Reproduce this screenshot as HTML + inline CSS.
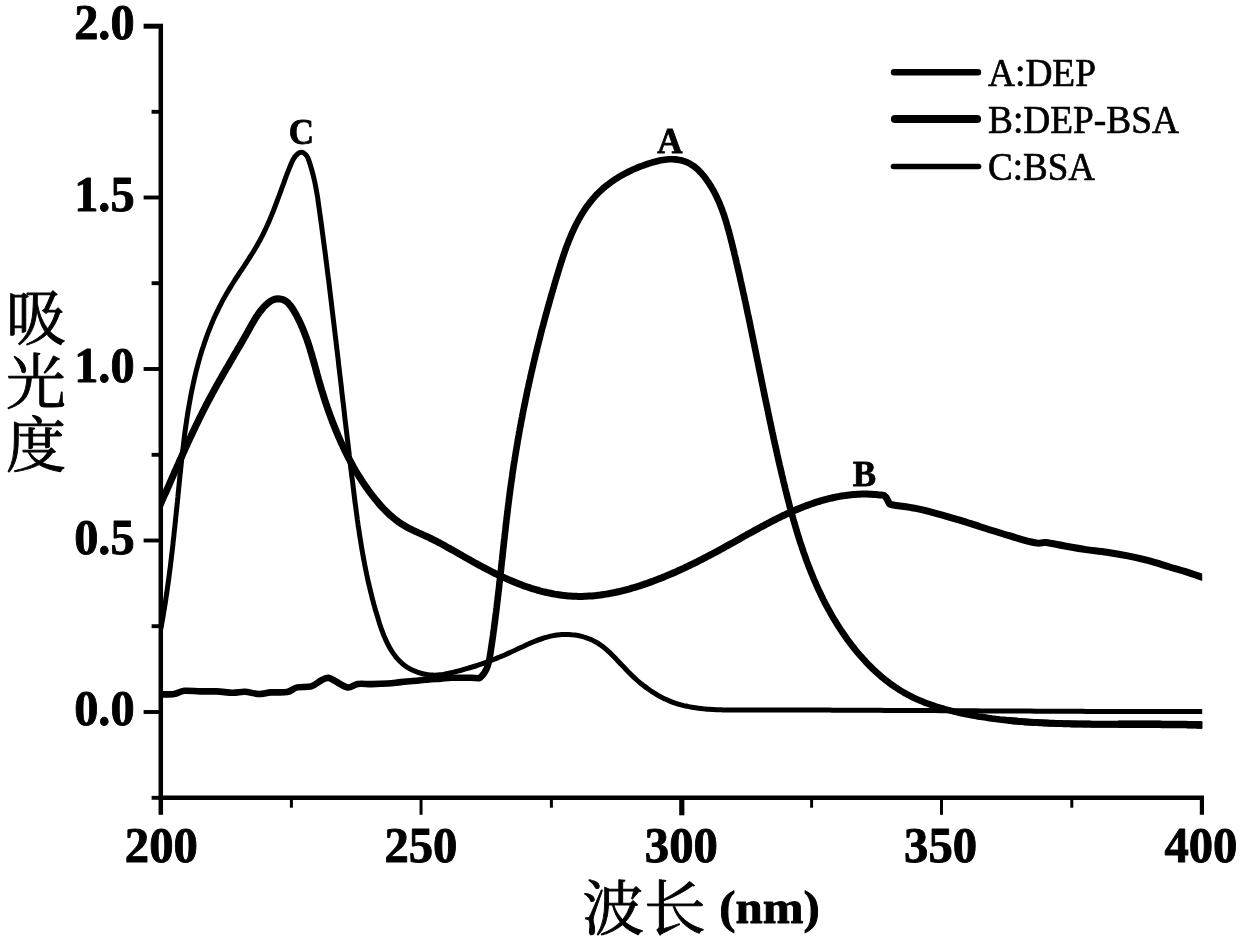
<!DOCTYPE html>
<html lang="zh">
<head>
<meta charset="utf-8">
<title>UV absorption spectra</title>
<style>
html,body{margin:0;padding:0;background:#fff;}
body{width:1240px;height:941px;overflow:hidden;}
svg{display:block;}
.num{font-family:"Liberation Serif",serif;font-weight:bold;font-size:50px;fill:#000;stroke:#000;stroke-width:0.9px;stroke-linejoin:round;}
.leg{font-family:"Liberation Serif",serif;font-size:39px;fill:#000;stroke:#000;stroke-width:0.7px;stroke-linejoin:round;}
.pk{font-family:"Liberation Serif",serif;font-weight:bold;font-size:35px;fill:#000;stroke:#000;stroke-width:0.8px;stroke-linejoin:round;}
.cjk{font-family:"Liberation Serif","Noto Serif CJK SC",serif;font-size:60px;fill:#000;stroke:#000;stroke-width:0.9px;stroke-linejoin:round;}
</style>
</head>
<body>
<svg width="1240" height="941" viewBox="0 0 1240 941">
<rect width="1240" height="941" fill="#fff"/>
<g stroke="#000" fill="none" stroke-linecap="butt">
<line x1="160.8" y1="24" x2="160.8" y2="800" stroke-width="4.5"/>
<line x1="158.6" y1="797.7" x2="1204" y2="797.7" stroke-width="4.6"/>
</g>
<g stroke="#000" stroke-width="3.9" fill="none"><line x1="143.6" y1="26.2" x2="163" y2="26.2" stroke-width="5"/><line x1="151.6" y1="111.8" x2="161" y2="111.8"/><line x1="143.6" y1="197.5" x2="161" y2="197.5"/><line x1="151.6" y1="283.2" x2="161" y2="283.2"/><line x1="143.6" y1="369.0" x2="161" y2="369.0"/><line x1="151.6" y1="454.8" x2="161" y2="454.8"/><line x1="143.6" y1="540.5" x2="161" y2="540.5"/><line x1="151.6" y1="626.2" x2="161" y2="626.2"/><line x1="143.6" y1="712.0" x2="161" y2="712.0"/><line x1="151.6" y1="797.8" x2="161" y2="797.8"/></g>
<g stroke="#000" stroke-width="3" fill="none"><line x1="160.8" y1="797.5" x2="160.8" y2="814.8" stroke-width="4.5"/><line x1="1201.9" y1="797.5" x2="1201.9" y2="814.8" stroke-width="4.2"/><line x1="421.05" y1="797.5" x2="421.05" y2="814.8" stroke-width="3"/><line x1="681.8" y1="797.5" x2="681.8" y2="815.3" stroke-width="5.2"/><line x1="941.5" y1="797.5" x2="941.5" y2="814.8" stroke-width="3"/><line x1="291.4" y1="797.5" x2="291.4" y2="807.7" stroke-width="3"/><line x1="551.4" y1="797.5" x2="551.4" y2="807.7" stroke-width="3"/><line x1="811.6" y1="797.5" x2="811.6" y2="807.7" stroke-width="3"/><line x1="1071.8" y1="797.5" x2="1071.8" y2="807.7" stroke-width="3"/></g>
<clipPath id="plotclip"><rect x="160.8" y="0" width="1041.4" height="800"/></clipPath>
<g fill="none" stroke="#000" stroke-linejoin="round" stroke-linecap="square" clip-path="url(#plotclip)">
<path stroke-width="5" d="M161.0 628.0C161.2 627.2 161.6 624.6 161.9 623.0C162.2 621.3 162.5 619.6 162.8 617.9C163.1 616.2 163.4 614.6 163.6 612.9C163.9 611.2 164.2 609.5 164.5 607.8C164.7 606.2 165.0 604.5 165.3 602.8C165.5 601.1 165.8 599.4 166.0 597.8C166.3 596.1 166.5 594.4 166.8 592.7C167.0 591.0 167.3 589.4 167.5 587.7C167.7 586.0 168.0 584.3 168.2 582.6C168.4 581.0 168.7 579.3 168.9 577.6C169.1 575.9 169.3 574.2 169.5 572.5C169.8 570.9 170.0 569.2 170.2 567.5C170.4 565.8 170.6 564.1 170.8 562.5C171.0 560.8 171.2 559.1 171.4 557.4C171.6 555.7 171.8 554.0 172.0 552.4C172.2 550.7 172.4 549.0 172.6 547.3C172.8 545.6 173.0 543.9 173.1 542.3C173.3 540.6 173.5 538.9 173.7 537.2C173.9 535.5 174.1 533.8 174.2 532.1C174.4 530.5 174.6 528.8 174.8 527.1C174.9 525.4 175.1 523.7 175.3 522.0C175.5 520.3 175.6 518.6 175.8 517.0C176.0 515.3 176.2 513.6 176.3 511.9C176.5 510.2 176.7 508.5 176.9 506.8C177.0 505.1 177.2 503.4 177.4 501.7C177.5 500.0 177.7 498.4 177.9 496.7C178.0 495.0 178.2 493.3 178.4 491.6C178.6 489.9 178.7 488.2 178.9 486.5C179.1 484.8 179.2 483.1 179.4 481.4C179.6 479.7 179.8 478.0 179.9 476.3C180.1 474.6 180.3 472.9 180.5 471.2C180.6 469.5 180.8 467.8 181.0 466.1C181.2 464.4 181.4 462.7 181.5 461.0C181.7 459.3 181.9 457.6 182.1 455.9C182.3 454.2 182.5 452.5 182.7 450.8C182.9 449.1 183.1 447.4 183.3 445.7C183.5 444.0 183.7 442.3 183.9 440.6C184.1 438.9 184.3 437.2 184.5 435.5C184.8 433.8 185.0 432.1 185.2 430.4C185.4 428.8 185.7 427.1 185.9 425.4C186.2 423.7 186.4 422.0 186.7 420.3C186.9 418.6 187.2 416.9 187.4 415.2C187.7 413.5 188.0 411.9 188.2 410.2C188.5 408.5 188.8 406.8 189.1 405.1C189.4 403.5 189.7 401.8 190.0 400.1C190.3 398.4 190.6 396.8 190.9 395.1C191.2 393.4 191.6 391.7 191.9 390.1C192.3 388.4 192.6 386.7 193.0 385.1C193.3 383.4 193.7 381.8 194.1 380.1C194.4 378.4 194.8 376.8 195.2 375.1C195.6 373.5 196.0 371.8 196.4 370.2C196.8 368.6 197.3 366.9 197.7 365.3C198.1 363.6 198.6 362.0 199.0 360.4C199.5 358.7 200.0 357.1 200.4 355.5C200.9 353.9 201.4 352.2 201.9 350.6C202.4 349.0 202.9 347.4 203.5 345.8C204.0 344.2 204.6 342.6 205.1 341.0C205.7 339.4 206.2 337.8 206.8 336.2C207.4 334.6 208.0 333.0 208.6 331.4C209.2 329.8 209.8 328.3 210.5 326.7C211.1 325.1 211.7 323.6 212.4 322.0C213.1 320.4 213.7 318.9 214.4 317.3C215.1 315.8 215.8 314.3 216.6 312.7C217.3 311.2 218.0 309.7 218.8 308.1C219.5 306.6 220.3 305.1 221.1 303.6C221.8 302.1 222.6 300.6 223.4 299.1C224.3 297.6 225.1 296.1 225.9 294.7C226.8 293.2 227.6 291.7 228.5 290.3C229.4 288.8 230.3 287.4 231.2 285.9C232.1 284.5 233.0 283.0 233.9 281.6C234.8 280.2 235.7 278.7 236.7 277.3C237.6 275.9 238.5 274.5 239.5 273.0C240.4 271.6 241.4 270.2 242.3 268.8C243.2 267.3 244.2 265.9 245.1 264.5C246.1 263.1 247.0 261.7 247.9 260.2C248.8 258.8 249.8 257.4 250.7 255.9C251.6 254.5 252.5 253.0 253.4 251.6C254.3 250.2 255.1 248.7 256.0 247.2C256.9 245.8 257.7 244.3 258.5 242.8C259.4 241.3 260.2 239.9 260.9 238.4C261.7 236.9 262.5 235.3 263.3 233.8C264.0 232.3 264.7 230.8 265.5 229.2C266.2 227.7 266.9 226.2 267.6 224.6C268.3 223.1 268.9 221.5 269.6 220.0C270.3 218.4 270.9 216.8 271.6 215.2C272.2 213.7 272.8 212.1 273.5 210.5C274.1 208.9 274.7 207.3 275.3 205.8C275.9 204.2 276.5 202.6 277.1 201.0C277.7 199.4 278.3 197.8 278.9 196.2C279.5 194.6 280.1 193.0 280.7 191.4C281.2 189.8 281.8 188.2 282.4 186.6C283.0 185.0 283.6 183.4 284.2 181.8C284.7 180.2 285.3 178.6 285.9 177.0C286.5 175.4 286.5 175.1 287.7 172.2C288.9 169.3 291.4 162.7 293.0 159.7C294.6 156.7 296.1 155.2 297.5 154.0C298.9 152.8 300.4 152.3 301.6 152.3C302.9 152.3 304.0 153.1 305.0 154.0C306.0 154.9 306.7 155.2 307.8 157.8C308.9 160.4 310.5 165.5 311.6 169.3C312.7 173.1 313.5 176.3 314.5 180.8C315.5 185.3 316.8 192.7 317.4 196.1C318.0 199.5 317.9 199.4 318.1 201.1C318.3 202.7 318.6 204.4 318.8 206.0C319.0 207.7 319.3 209.3 319.5 211.0C319.7 212.6 320.0 214.3 320.2 215.9C320.4 217.6 320.6 219.2 320.9 220.9C321.1 222.6 321.3 224.2 321.6 225.9C321.8 227.5 322.0 229.2 322.2 230.8C322.4 232.5 322.7 234.2 322.9 235.8C323.1 237.5 323.3 239.1 323.5 240.8C323.8 242.4 324.0 244.1 324.2 245.8C324.4 247.4 324.6 249.1 324.9 250.7C325.1 252.4 325.3 254.1 325.5 255.7C325.7 257.4 325.9 259.1 326.1 260.7C326.4 262.4 326.6 264.0 326.8 265.7C327.0 267.4 327.2 269.0 327.4 270.7C327.6 272.4 327.8 274.0 328.0 275.7C328.2 277.4 328.5 279.0 328.7 280.7C328.9 282.4 329.1 284.0 329.3 285.7C329.5 287.4 329.7 289.0 329.9 290.7C330.1 292.3 330.3 294.0 330.5 295.7C330.7 297.3 330.9 299.0 331.1 300.7C331.3 302.4 331.5 304.0 331.7 305.7C331.9 307.4 332.1 309.0 332.3 310.7C332.5 312.4 332.7 314.0 332.9 315.7C333.1 317.4 333.3 319.0 333.5 320.7C333.7 322.4 333.9 324.0 334.1 325.7C334.3 327.4 334.5 329.0 334.7 330.7C334.9 332.4 335.1 334.0 335.3 335.7C335.5 337.4 335.7 339.1 335.9 340.7C336.1 342.4 336.3 344.1 336.5 345.7C336.7 347.4 336.9 349.1 337.1 350.7C337.3 352.4 337.5 354.1 337.7 355.7C337.9 357.4 338.1 359.1 338.3 360.7C338.4 362.4 338.6 364.1 338.8 365.8C339.0 367.4 339.2 369.1 339.4 370.8C339.6 372.4 339.8 374.1 340.0 375.8C340.2 377.4 340.4 379.1 340.6 380.8C340.8 382.4 341.0 384.1 341.2 385.8C341.4 387.4 341.6 389.1 341.7 390.8C341.9 392.4 342.1 394.1 342.3 395.8C342.5 397.4 342.7 399.1 342.9 400.8C343.1 402.4 343.3 404.1 343.5 405.8C343.7 407.4 343.9 409.1 344.1 410.8C344.3 412.4 344.5 414.1 344.6 415.8C344.8 417.4 345.0 419.1 345.2 420.8C345.4 422.4 345.6 424.1 345.8 425.8C346.0 427.4 346.2 429.1 346.4 430.7C346.6 432.4 346.8 434.1 347.0 435.7C347.2 437.4 347.4 439.1 347.6 440.7C347.8 442.4 348.0 444.0 348.2 445.7C348.4 447.4 348.6 449.0 348.8 450.7C349.0 452.4 349.2 454.0 349.3 455.7C349.5 457.3 349.7 459.0 349.9 460.6C350.1 462.3 350.3 464.0 350.5 465.6C350.7 467.3 350.9 468.9 351.1 470.6C351.3 472.3 351.5 473.9 351.7 475.6C351.9 477.2 352.2 478.9 352.4 480.5C352.6 482.2 352.8 483.8 353.0 485.5C353.2 487.1 353.4 488.8 353.6 490.4C353.8 492.1 354.0 493.8 354.2 495.4C354.4 497.1 354.6 498.7 354.8 500.4C355.0 502.0 355.2 503.7 355.5 505.3C355.7 507.0 355.9 508.6 356.1 510.3C356.3 511.9 356.5 513.6 356.8 515.2C357.0 516.9 357.2 518.5 357.4 520.1C357.7 521.8 357.9 523.4 358.1 525.1C358.4 526.7 358.6 528.4 358.9 530.0C359.1 531.7 359.4 533.3 359.6 535.0C359.9 536.6 360.1 538.3 360.4 539.9C360.7 541.6 360.9 543.2 361.2 544.9C361.5 546.5 361.7 548.1 362.0 549.8C362.3 551.4 362.6 553.1 362.9 554.7C363.2 556.4 363.5 558.0 363.8 559.7C364.1 561.3 364.4 563.0 364.7 564.6C365.0 566.3 365.4 567.9 365.7 569.6C366.0 571.2 366.4 572.9 366.7 574.5C367.1 576.2 367.4 577.8 367.8 579.5C368.1 581.1 368.5 582.7 368.9 584.4C369.3 586.0 369.7 587.7 370.1 589.3C370.4 591.0 370.9 592.6 371.3 594.3C371.7 596.0 372.1 597.6 372.5 599.3C373.0 600.9 373.4 602.6 373.8 604.2C374.3 605.9 374.8 607.5 375.2 609.2C375.7 610.8 376.2 612.5 376.7 614.1C377.2 615.8 377.7 617.5 378.2 619.1C378.7 620.8 379.2 622.4 379.7 624.1C380.3 625.7 380.8 627.4 381.4 629.0C382.0 630.6 382.6 632.2 383.2 633.8C383.8 635.4 384.5 637.0 385.2 638.5C385.8 640.1 386.6 641.6 387.3 643.1C388.0 644.6 388.8 646.1 389.6 647.5C390.4 649.0 391.3 650.4 392.2 651.7C393.0 653.1 394.0 654.4 394.9 655.7C395.9 656.9 396.9 658.2 398.0 659.4C399.1 660.5 400.2 661.7 401.4 662.7C402.5 663.8 403.8 664.8 405.0 665.7C406.3 666.7 407.7 667.6 409.1 668.4C410.5 669.2 411.9 669.9 413.4 670.6C414.9 671.3 416.5 671.9 418.0 672.4C419.6 673.0 421.2 673.4 422.8 673.8C424.4 674.2 426.1 674.5 427.8 674.7C429.4 674.9 431.1 675.1 432.8 675.1C434.5 675.2 436.2 675.1 437.8 675.0C439.5 674.9 441.2 674.7 442.9 674.5C444.5 674.2 446.2 673.9 447.9 673.5C449.5 673.2 451.2 672.8 452.8 672.4C454.5 672.0 456.1 671.6 457.7 671.1C459.4 670.7 461.0 670.3 462.6 669.8C464.2 669.4 465.9 668.9 467.5 668.4C469.1 668.0 470.7 667.5 472.3 667.0C473.9 666.5 475.5 666.0 477.1 665.5C478.7 664.9 480.2 664.4 481.8 663.9C483.4 663.3 485.0 662.7 486.5 662.2C488.1 661.6 489.7 661.0 491.3 660.4C492.8 659.8 494.4 659.2 495.9 658.6C497.5 658.0 499.0 657.3 500.6 656.7C502.1 656.0 503.7 655.4 505.2 654.7C506.8 654.0 508.3 653.3 509.9 652.6C511.4 651.9 512.9 651.2 514.5 650.5C516.0 649.8 517.5 649.0 519.1 648.3C520.6 647.6 522.2 646.9 523.7 646.2C525.2 645.4 526.8 644.7 528.3 644.0C529.9 643.4 531.4 642.7 533.0 642.0C534.5 641.4 536.1 640.8 537.6 640.2C539.2 639.6 540.8 639.0 542.4 638.5C543.9 638.0 545.5 637.5 547.1 637.1C548.7 636.6 550.3 636.2 552.0 635.9C553.6 635.6 555.2 635.3 556.8 635.0C558.5 634.8 560.1 634.6 561.8 634.5C563.5 634.4 565.1 634.4 566.8 634.4C568.5 634.5 570.2 634.5 571.8 634.7C573.5 634.8 575.1 635.1 576.8 635.3C578.4 635.6 580.1 636.0 581.7 636.4C583.3 636.8 584.9 637.3 586.4 637.8C588.0 638.3 589.6 638.9 591.1 639.6C592.5 640.3 594.0 641.0 595.4 641.8C596.9 642.6 598.3 643.5 599.6 644.4C601.0 645.3 602.3 646.3 603.6 647.3C604.9 648.3 606.1 649.4 607.4 650.5C608.6 651.6 609.9 652.8 611.1 653.9C612.3 655.1 613.5 656.3 614.7 657.5C615.9 658.7 617.0 660.0 618.2 661.2C619.4 662.5 620.6 663.7 621.7 665.0C622.9 666.2 624.1 667.5 625.3 668.7C626.5 670.0 627.7 671.2 628.9 672.4C630.1 673.7 631.3 674.9 632.6 676.1C633.8 677.2 635.1 678.4 636.3 679.5C637.6 680.7 638.9 681.8 640.2 682.9C641.5 683.9 642.8 685.0 644.2 686.0C645.5 687.1 646.9 688.1 648.2 689.0C649.6 690.0 651.0 691.0 652.4 691.9C653.8 692.8 655.2 693.7 656.6 694.5C658.0 695.3 659.5 696.2 660.9 696.9C662.4 697.7 663.9 698.4 665.3 699.1C666.8 699.8 668.3 700.5 669.8 701.1C671.3 701.7 672.9 702.3 674.4 702.8C675.9 703.3 677.5 703.8 679.0 704.3C680.6 704.8 682.2 705.2 683.8 705.6C685.3 705.9 686.9 706.3 688.5 706.6C690.1 706.9 691.7 707.2 693.4 707.5C695.0 707.8 696.6 708.0 698.3 708.2C699.9 708.4 701.5 708.6 703.2 708.8C704.8 708.9 706.5 709.1 708.2 709.2C709.8 709.3 711.5 709.4 713.2 709.5C714.8 709.6 716.5 709.7 718.2 709.7C719.9 709.8 721.6 709.8 723.3 709.9C725.0 709.9 726.7 709.9 728.3 709.9C730.0 709.9 731.7 710.0 733.4 710.0C735.1 710.0 736.8 710.0 738.5 710.0C740.2 710.0 741.9 710.0 743.6 710.0C745.3 710.0 747.0 710.0 748.7 710.0C750.4 710.0 752.1 710.0 753.8 710.0C755.5 710.0 757.2 710.0 758.9 710.0C760.6 710.0 762.3 710.0 764.0 710.0C765.7 710.0 767.3 710.0 769.0 710.0C770.7 710.0 772.4 710.0 774.1 710.0C775.8 710.0 777.5 710.0 779.2 710.0C780.9 710.0 782.6 710.0 784.3 710.0C785.9 710.0 787.6 710.0 789.3 710.0C791.0 710.0 792.7 710.0 794.4 710.0C796.1 710.0 797.8 710.0 799.4 710.0C801.1 710.1 802.8 710.1 804.5 710.1C806.2 710.1 807.9 710.1 809.6 710.1C811.2 710.1 812.9 710.1 814.6 710.1C816.3 710.1 818.0 710.1 819.7 710.1C821.3 710.1 823.0 710.1 824.7 710.1C826.4 710.1 828.1 710.1 829.7 710.1C831.4 710.1 833.1 710.2 834.8 710.2C836.5 710.2 838.1 710.2 839.8 710.2C841.5 710.2 843.2 710.2 844.9 710.2C846.5 710.2 848.2 710.2 849.9 710.2C851.6 710.2 853.3 710.2 854.9 710.2C856.6 710.2 858.3 710.3 860.0 710.3C861.6 710.3 863.3 710.3 865.0 710.3C866.7 710.3 868.4 710.3 870.0 710.3C871.7 710.3 873.4 710.3 875.1 710.3C876.7 710.3 878.4 710.3 880.1 710.3C881.8 710.4 883.4 710.4 885.1 710.4C886.8 710.4 888.5 710.4 890.1 710.4C891.8 710.4 893.5 710.4 895.1 710.4C896.8 710.4 898.5 710.4 900.2 710.4C901.8 710.5 903.5 710.5 905.2 710.5C906.9 710.5 908.5 710.5 910.2 710.5C911.9 710.5 913.5 710.5 915.2 710.5C916.9 710.5 918.6 710.5 920.2 710.6C921.9 710.6 923.6 710.6 925.3 710.6C926.9 710.6 928.6 710.6 930.3 710.6C931.9 710.6 933.6 710.6 935.3 710.6C936.9 710.6 938.6 710.6 940.3 710.7C942.0 710.7 943.6 710.7 945.3 710.7C947.0 710.7 948.6 710.7 950.3 710.7C952.0 710.7 953.6 710.7 955.3 710.7C957.0 710.7 958.7 710.8 960.3 710.8C962.0 710.8 963.7 710.8 965.3 710.8C967.0 710.8 968.7 710.8 970.3 710.8C972.0 710.8 973.7 710.8 975.4 710.8C977.0 710.9 978.7 710.9 980.4 710.9C982.0 710.9 983.7 710.9 985.4 710.9C987.0 710.9 988.7 710.9 990.4 710.9C992.0 710.9 993.7 710.9 995.4 711.0C997.1 711.0 998.7 711.0 1000.4 711.0C1002.1 711.0 1003.7 711.0 1005.4 711.0C1007.1 711.0 1008.7 711.0 1010.4 711.0C1012.1 711.0 1013.7 711.0 1015.4 711.1C1017.1 711.1 1018.8 711.1 1020.4 711.1C1022.1 711.1 1023.8 711.1 1025.4 711.1C1027.1 711.1 1028.8 711.1 1030.4 711.1C1032.1 711.1 1033.8 711.1 1035.4 711.2C1037.1 711.2 1038.8 711.2 1040.5 711.2C1042.1 711.2 1043.8 711.2 1045.5 711.2C1047.1 711.2 1048.8 711.2 1050.5 711.2C1052.2 711.2 1053.8 711.2 1055.5 711.2C1057.2 711.2 1058.8 711.3 1060.5 711.3C1062.2 711.3 1063.8 711.3 1065.5 711.3C1067.2 711.3 1068.9 711.3 1070.5 711.3C1072.2 711.3 1073.9 711.3 1075.6 711.3C1077.2 711.3 1078.9 711.3 1080.6 711.3C1082.2 711.3 1083.9 711.4 1085.6 711.4C1087.3 711.4 1088.9 711.4 1090.6 711.4C1092.3 711.4 1094.0 711.4 1095.6 711.4C1097.3 711.4 1099.0 711.4 1100.6 711.4C1102.3 711.4 1104.0 711.4 1105.7 711.4C1107.3 711.4 1109.0 711.4 1110.7 711.4C1112.4 711.4 1114.0 711.4 1115.7 711.4C1117.4 711.5 1119.1 711.5 1120.8 711.5C1122.4 711.5 1124.1 711.5 1125.8 711.5C1127.5 711.5 1129.1 711.5 1130.8 711.5C1132.5 711.5 1134.2 711.5 1135.9 711.5C1137.5 711.5 1139.2 711.5 1140.9 711.5C1142.6 711.5 1144.2 711.5 1145.9 711.5C1147.6 711.5 1149.3 711.5 1151.0 711.5C1152.6 711.5 1154.3 711.5 1156.0 711.5C1157.7 711.5 1159.4 711.5 1161.1 711.5C1162.7 711.5 1164.4 711.5 1166.1 711.5C1167.8 711.5 1169.5 711.5 1171.2 711.5C1172.8 711.5 1174.5 711.5 1176.2 711.5C1177.9 711.5 1179.6 711.5 1181.3 711.5C1182.9 711.5 1184.6 711.5 1186.3 711.5C1188.0 711.5 1189.7 711.5 1191.4 711.5C1193.1 711.5 1194.7 711.5 1196.4 711.5C1198.1 711.5 1200.7 711.5 1201.5 711.5"/>
<path stroke-width="7" d="M161.0 503.0L161.8 501.2L162.6 499.4L163.4 497.5L164.2 495.7L165.0 493.9L165.9 492.1L166.7 490.2L167.5 488.4L168.3 486.6L169.1 484.8L169.9 482.9L170.7 481.1L171.5 479.3L172.3 477.4L173.1 475.6L173.9 473.8L174.7 471.9L175.6 470.1L176.4 468.3L177.2 466.4L178.0 464.6L178.8 462.8L179.6 460.9L180.5 459.1L181.3 457.3L182.1 455.5L182.9 453.6L183.8 451.8L184.6 450.0L185.4 448.1L186.3 446.3L187.1 444.5L187.9 442.7L188.8 440.8L189.6 439.0L190.5 437.2L191.3 435.4L192.2 433.6L193.0 431.7L193.9 429.9L194.8 428.1L195.6 426.3L196.5 424.5L197.4 422.7L198.3 420.9L199.1 419.1L200.0 417.3L200.9 415.5L201.8 413.7L202.7 411.9L203.6 410.1L204.5 408.3L205.4 406.6L206.3 404.8L207.3 403.0L208.2 401.2L209.1 399.5L210.1 397.7L211.0 395.9L212.0 394.2L212.9 392.4L213.9 390.7L214.8 388.9L215.8 387.2L216.8 385.4L217.7 383.7L218.7 382.0L219.7 380.2L220.7 378.5L221.7 376.8L222.7 375.0L223.7 373.3L224.7 371.6L225.7 369.8L226.7 368.1L227.7 366.4L228.7 364.7L229.7 362.9L230.7 361.2L231.7 359.5L232.7 357.8L233.7 356.0L234.7 354.3L235.7 352.6L236.7 350.9L237.7 349.1L238.8 347.4L239.8 345.7L240.8 343.9L241.8 342.2L242.8 340.4L243.8 338.7L244.8 336.9L245.8 335.2L246.8 333.4L247.8 331.7L248.7 329.9L249.7 328.2L250.7 326.4L251.7 324.6L252.7 322.9L253.7 321.2L254.8 319.4L255.8 317.7L256.9 316.0L258.1 314.4L259.2 312.7L260.4 311.1L261.7 309.6L263.0 308.0L264.3 306.5L265.7 305.1L267.2 303.7L268.8 302.4L270.4 301.2L272.2 300.2L274.0 299.5L276.0 299.0L278.0 298.8L279.9 298.9L281.8 299.3L283.6 299.9L285.3 300.8L286.8 301.9L288.3 303.2L289.6 304.7L290.9 306.3L292.1 308.0L293.2 309.7L294.3 311.6L295.4 313.4L296.4 315.2L297.3 317.1L298.3 318.9L299.2 320.8L300.1 322.6L300.9 324.5L301.8 326.4L302.6 328.2L303.3 330.1L304.1 331.9L304.8 333.8L305.5 335.7L306.2 337.5L306.9 339.4L307.5 341.3L308.2 343.2L308.8 345.0L309.4 346.9L310.0 348.8L310.5 350.7L311.1 352.6L311.7 354.5L312.2 356.4L312.7 358.2L313.3 360.1L313.8 362.0L314.3 363.9L314.9 365.8L315.4 367.7L315.9 369.6L316.4 371.5L316.9 373.4L317.5 375.4L318.0 377.3L318.5 379.2L319.1 381.1L319.6 383.0L320.2 384.9L320.7 386.8L321.3 388.8L321.9 390.7L322.5 392.6L323.1 394.5L323.7 396.4L324.3 398.4L324.9 400.3L325.5 402.2L326.2 404.1L326.8 406.0L327.5 407.9L328.1 409.9L328.8 411.8L329.5 413.7L330.2 415.6L330.9 417.5L331.6 419.4L332.3 421.3L333.0 423.2L333.8 425.0L334.5 426.9L335.3 428.8L336.0 430.7L336.8 432.5L337.6 434.4L338.4 436.3L339.2 438.1L340.0 439.9L340.8 441.8L341.6 443.6L342.5 445.4L343.3 447.2L344.2 449.1L345.0 450.9L345.9 452.7L346.8 454.4L347.7 456.2L348.6 458.0L349.5 459.7L350.5 461.5L351.4 463.2L352.4 465.0L353.3 466.7L354.3 468.4L355.3 470.2L356.3 471.9L357.3 473.6L358.4 475.3L359.4 477.0L360.5 478.6L361.6 480.3L362.6 482.0L363.8 483.6L364.9 485.3L366.0 486.9L367.2 488.6L368.3 490.2L369.5 491.8L370.7 493.4L371.9 495.0L373.2 496.6L374.4 498.2L375.7 499.8L377.0 501.3L378.3 502.9L379.6 504.4L380.9 505.9L382.3 507.4L383.7 508.9L385.1 510.3L386.5 511.7L388.0 513.1L389.4 514.5L390.9 515.8L392.5 517.1L394.0 518.4L395.6 519.7L397.2 520.9L398.8 522.1L400.4 523.2L402.1 524.3L403.8 525.3L405.5 526.4L407.2 527.3L409.0 528.3L410.8 529.2L412.6 530.1L414.4 530.9L416.3 531.8L418.1 532.6L419.9 533.4L421.8 534.3L423.6 535.1L425.5 535.9L427.3 536.7L429.1 537.6L430.9 538.5L432.7 539.4L434.5 540.3L436.3 541.2L438.0 542.1L439.8 543.0L441.6 544.0L443.3 544.9L445.1 545.9L446.8 546.9L448.5 547.9L450.3 548.9L452.0 549.8L453.7 550.8L455.5 551.8L457.2 552.8L458.9 553.8L460.7 554.8L462.4 555.8L464.2 556.8L465.9 557.8L467.7 558.8L469.4 559.7L471.2 560.7L472.9 561.7L474.7 562.7L476.4 563.6L478.2 564.6L480.0 565.6L481.7 566.5L483.5 567.5L485.3 568.4L487.1 569.3L488.8 570.2L490.6 571.2L492.4 572.1L494.2 573.0L496.0 573.9L497.8 574.7L499.6 575.6L501.4 576.4L503.3 577.3L505.1 578.1L506.9 578.9L508.8 579.8L510.6 580.5L512.4 581.3L514.3 582.1L516.2 582.8L518.0 583.6L519.9 584.3L521.8 585.0L523.6 585.7L525.5 586.4L527.4 587.0L529.3 587.6L531.2 588.3L533.2 588.9L535.1 589.4L537.0 590.0L538.9 590.5L540.9 591.1L542.8 591.6L544.7 592.0L546.7 592.5L548.6 592.9L550.6 593.3L552.6 593.7L554.5 594.1L556.5 594.4L558.5 594.7L560.4 595.0L562.4 595.3L564.4 595.5L566.4 595.7L568.3 595.9L570.3 596.0L572.3 596.2L574.3 596.3L576.3 596.3L578.3 596.4L580.3 596.4L582.3 596.4L584.3 596.3L586.3 596.2L588.3 596.1L590.2 596.0L592.2 595.9L594.2 595.7L596.2 595.5L598.2 595.2L600.2 595.0L602.2 594.7L604.2 594.4L606.2 594.1L608.2 593.8L610.2 593.4L612.1 593.0L614.1 592.6L616.1 592.2L618.1 591.8L620.0 591.3L622.0 590.8L624.0 590.4L625.9 589.8L627.9 589.3L629.9 588.8L631.8 588.2L633.7 587.7L635.7 587.1L637.6 586.5L639.6 585.9L641.5 585.2L643.4 584.6L645.3 583.9L647.2 583.3L649.1 582.6L651.0 581.9L652.9 581.2L654.8 580.5L656.7 579.8L658.5 579.1L660.4 578.4L662.2 577.6L664.1 576.9L665.9 576.1L667.8 575.3L669.6 574.6L671.5 573.8L673.3 573.0L675.1 572.2L676.9 571.4L678.7 570.5L680.5 569.7L682.3 568.9L684.1 568.1L685.9 567.2L687.7 566.4L689.5 565.5L691.3 564.6L693.1 563.8L694.9 562.9L696.7 562.0L698.4 561.1L700.2 560.2L702.0 559.3L703.7 558.4L705.5 557.5L707.3 556.5L709.0 555.6L710.8 554.7L712.6 553.8L714.3 552.8L716.1 551.9L717.8 550.9L719.6 550.0L721.4 549.0L723.1 548.1L724.9 547.1L726.6 546.1L728.4 545.1L730.1 544.2L731.9 543.2L733.7 542.2L735.4 541.2L737.2 540.2L738.9 539.3L740.7 538.3L742.4 537.3L744.2 536.3L746.0 535.3L747.7 534.3L749.5 533.3L751.3 532.4L753.0 531.4L754.8 530.4L756.6 529.4L758.4 528.5L760.1 527.5L761.9 526.5L763.7 525.6L765.5 524.6L767.3 523.7L769.0 522.8L770.8 521.8L772.6 520.9L774.4 520.0L776.2 519.1L778.0 518.2L779.8 517.3L781.6 516.4L783.4 515.5L785.2 514.7L787.1 513.8L788.9 513.0L790.7 512.2L792.5 511.4L794.4 510.6L796.2 509.8L798.0 509.0L799.9 508.2L801.7 507.5L803.6 506.8L805.4 506.1L807.3 505.4L809.1 504.7L811.0 504.0L812.9 503.4L814.7 502.7L816.6 502.1L818.5 501.5L820.4 501.0L822.3 500.4L824.2 499.9L826.1 499.4L828.0 498.9L829.9 498.4L831.8 498.0L833.8 497.5L835.7 497.1L837.6 496.7L839.6 496.4L841.5 496.0L843.5 495.7L845.4 495.5L847.4 495.2L849.4 495.0L851.4 494.8L853.4 494.6L855.4 494.4L857.4 494.3L859.4 494.2L861.4 494.1L863.4 494.1L865.4 494.1L867.5 494.1L869.5 494.2L871.5 494.2L873.6 494.4L875.7 494.5L877.7 494.7L879.8 494.9L881.9 495.1L884.0 495.4L886.5 498L889.5 504C890.6 504.2 891.8 504.8 896.2 505.5C900.6 506.2 908.8 507.0 915.7 508.4C922.6 509.8 930.4 511.8 937.7 513.8C945.0 515.8 952.5 517.9 959.7 520.1C966.9 522.3 974.0 524.8 981.0 527.0C988.0 529.2 994.9 531.4 1001.9 533.5C1008.9 535.6 1017.0 538.2 1022.9 539.8C1028.8 541.4 1033.8 542.6 1037.6 543.1C1041.4 543.6 1041.5 542.0 1046.0 542.5C1050.5 543.0 1058.2 544.8 1064.8 546.0C1071.4 547.2 1078.8 548.6 1085.8 549.6C1092.8 550.6 1099.8 551.2 1106.8 552.3C1113.8 553.3 1120.8 554.5 1127.8 555.9C1134.8 557.3 1141.7 558.9 1148.7 560.7C1155.7 562.6 1162.7 564.9 1169.7 567.0C1176.7 569.1 1185.5 571.6 1190.7 573.3C1195.9 574.9 1199.4 576.3 1201.1 576.9"/>
<path stroke-width="6.6" d="M161.5 694.4C163.6 694.3 170.4 694.6 174.2 694.0C178.0 693.4 179.9 691.2 184.3 690.8C188.7 690.4 195.0 691.3 200.4 691.4C205.8 691.5 211.1 691.2 216.5 691.4C221.9 691.6 228.0 692.7 232.7 692.8C237.4 692.9 240.4 691.6 244.8 691.8C249.2 692.0 254.5 693.9 258.9 694.0C263.3 694.1 266.3 692.7 271.0 692.4C275.7 692.1 282.7 692.8 287.1 692.0C291.5 691.2 293.2 688.3 297.2 687.4C301.2 686.5 307.3 687.6 311.3 686.4C315.3 685.2 318.5 681.7 321.4 680.3C324.2 678.9 326.0 677.7 328.4 677.9C330.8 678.1 332.3 679.7 335.5 681.3C338.7 682.9 343.9 687.0 347.6 687.5C351.3 688.0 353.7 684.6 357.7 684.0C361.7 683.4 366.8 684.2 371.8 684.1C376.8 684.0 383.1 683.8 387.9 683.5C392.7 683.2 396.5 682.5 400.6 682.1C404.7 681.7 409.2 681.3 412.6 681.0C416.0 680.7 418.1 680.5 420.8 680.2C423.5 680.0 425.3 679.8 428.7 679.5C432.1 679.2 437.2 678.9 441.0 678.6C444.8 678.3 448.2 677.9 451.6 677.8C455.0 677.6 457.9 677.7 461.2 677.7C464.5 677.7 468.6 677.7 471.6 677.8C474.6 677.9 478.0 678.2 479.3 678.3L479.3 678.3L480.9 676.9L482.4 675.4L483.6 673.9L484.7 672.2L485.7 670.5L486.6 668.7L487.3 666.9L487.9 665.0L488.5 663.1L488.9 661.2L489.4 659.2L489.7 657.2L490.1 655.2L490.4 653.2L490.7 651.2L491.0 649.2L491.3 647.2L491.6 645.2L491.9 643.2L492.2 641.2L492.5 639.2L492.8 637.2L493.1 635.2L493.3 633.2L493.6 631.2L493.9 629.2L494.1 627.3L494.4 625.3L494.7 623.3L494.9 621.3L495.2 619.3L495.4 617.3L495.7 615.3L495.9 613.4L496.2 611.4L496.4 609.4L496.7 607.4L496.9 605.4L497.1 603.5L497.4 601.5L497.6 599.5L497.8 597.5L498.1 595.5L498.3 593.5L498.5 591.5L498.8 589.6L499.0 587.6L499.2 585.6L499.4 583.6L499.7 581.6L499.9 579.6L500.1 577.6L500.3 575.7L500.5 573.7L500.8 571.7L501.0 569.7L501.2 567.7L501.4 565.7L501.6 563.7L501.8 561.7L502.1 559.7L502.3 557.8L502.5 555.8L502.7 553.8L502.9 551.8L503.1 549.8L503.4 547.8L503.6 545.8L503.8 543.8L504.0 541.8L504.2 539.9L504.5 537.9L504.7 535.9L504.9 533.9L505.1 531.9L505.4 529.9L505.6 527.9L505.8 525.9L506.0 523.9L506.3 522.0L506.5 520.0L506.7 518.0L507.0 516.0L507.2 514.0L507.5 512.0L507.7 510.0L507.9 508.0L508.2 506.0L508.4 504.0L508.7 502.1L508.9 500.1L509.2 498.1L509.4 496.1L509.7 494.1L510.0 492.1L510.2 490.1L510.5 488.1L510.8 486.1L511.0 484.2L511.3 482.2L511.6 480.2L511.9 478.2L512.2 476.2L512.4 474.2L512.7 472.2L513.0 470.2L513.3 468.3L513.6 466.3L513.9 464.3L514.2 462.3L514.6 460.3L514.9 458.3L515.2 456.3L515.5 454.4L515.8 452.4L516.2 450.4L516.5 448.4L516.8 446.4L517.2 444.5L517.5 442.5L517.8 440.5L518.2 438.5L518.5 436.5L518.9 434.6L519.2 432.6L519.6 430.6L519.9 428.6L520.3 426.7L520.7 424.7L521.0 422.7L521.4 420.7L521.8 418.8L522.2 416.8L522.5 414.8L522.9 412.8L523.3 410.9L523.7 408.9L524.1 406.9L524.5 405.0L524.9 403.0L525.3 401.0L525.7 399.1L526.1 397.1L526.5 395.2L526.9 393.2L527.3 391.2L527.7 389.3L528.2 387.3L528.6 385.4L529.0 383.4L529.4 381.5L529.9 379.5L530.3 377.6L530.7 375.6L531.2 373.7L531.6 371.7L532.1 369.8L532.5 367.8L533.0 365.9L533.4 363.9L533.9 362.0L534.3 360.1L534.8 358.1L535.3 356.2L535.7 354.2L536.2 352.3L536.7 350.4L537.1 348.5L537.6 346.5L538.1 344.6L538.6 342.7L539.1 340.7L539.6 338.8L540.1 336.9L540.5 335.0L541.0 333.0L541.5 331.1L542.0 329.2L542.5 327.3L543.1 325.4L543.6 323.4L544.1 321.5L544.6 319.6L545.1 317.7L545.6 315.8L546.2 313.8L546.7 311.9L547.2 310.0L547.7 308.1L548.3 306.2L548.8 304.2L549.4 302.3L549.9 300.4L550.4 298.5L551.0 296.5L551.5 294.6L552.1 292.7L552.7 290.7L553.2 288.8L553.8 286.9L554.3 284.9L554.9 283.0L555.5 281.0L556.1 279.1L556.6 277.2L557.2 275.2L557.8 273.3L558.4 271.3L559.0 269.4L559.6 267.4L560.2 265.5L560.8 263.5L561.4 261.6L562.1 259.6L562.7 257.7L563.3 255.8L564.0 253.8L564.7 251.9L565.3 250.0L566.0 248.1L566.7 246.2L567.5 244.3L568.2 242.4L568.9 240.5L569.7 238.6L570.5 236.8L571.2 234.9L572.0 233.1L572.9 231.3L573.7 229.4L574.6 227.6L575.4 225.8L576.3 224.1L577.2 222.3L578.2 220.5L579.1 218.8L580.1 217.1L581.1 215.4L582.1 213.7L583.2 212.0L584.2 210.4L585.3 208.7L586.4 207.1L587.6 205.5L588.8 203.9L590.0 202.4L591.2 200.9L592.4 199.3L593.7 197.9L595.0 196.4L596.3 194.9L597.7 193.5L599.1 192.1L600.5 190.8L602.0 189.4L603.5 188.1L605.0 186.8L606.6 185.5L608.2 184.3L609.8 183.1L611.4 181.9L613.1 180.7L614.8 179.6L616.5 178.5L618.2 177.4L619.9 176.4L621.7 175.4L623.5 174.4L625.3 173.4L627.1 172.5L628.9 171.5L630.7 170.7L632.5 169.8L634.4 169.0L636.2 168.2L638.1 167.4L639.9 166.7L641.8 166.0L643.7 165.3L645.5 164.6L647.4 164.0L649.3 163.4L651.2 162.8L653.1 162.2L655.0 161.7L656.9 161.2L658.9 160.7L660.8 160.3L662.8 160.0L664.8 159.7L666.8 159.5L668.8 159.3L670.9 159.3L672.9 159.3L674.9 159.4L676.9 159.6L678.9 159.9L680.9 160.3L682.8 160.8L684.7 161.4L686.6 162.1L688.4 162.9L690.1 163.8L691.8 164.9L693.5 166.0L695.1 167.2L696.6 168.5L698.1 169.8L699.5 171.3L700.9 172.7L702.3 174.3L703.6 175.8L704.9 177.5L706.1 179.1L707.3 180.8L708.5 182.5L709.6 184.2L710.7 185.9L711.7 187.7L712.7 189.4L713.7 191.2L714.7 193.0L715.6 194.8L716.5 196.6L717.3 198.4L718.2 200.2L719.0 202.0L719.8 203.9L720.5 205.7L721.2 207.6L722.0 209.4L722.6 211.3L723.3 213.2L724.0 215.1L724.6 217.0L725.2 218.9L725.8 220.8L726.4 222.7L726.9 224.6L727.5 226.6L728.0 228.5L728.6 230.4L729.1 232.3L729.6 234.3L730.1 236.2L730.6 238.2L731.1 240.1L731.6 242.1L732.1 244.0L732.5 245.9L733.0 247.9L733.5 249.8L734.0 251.8L734.4 253.7L734.9 255.7L735.4 257.6L735.8 259.6L736.3 261.5L736.7 263.5L737.2 265.4L737.6 267.4L738.1 269.3L738.5 271.3L739.0 273.2L739.4 275.2L739.9 277.1L740.3 279.1L740.7 281.0L741.2 283.0L741.6 284.9L742.0 286.9L742.5 288.8L742.9 290.8L743.3 292.7L743.8 294.7L744.2 296.6L744.6 298.6L745.0 300.5L745.5 302.5L745.9 304.5L746.3 306.4L746.7 308.4L747.1 310.3L747.5 312.3L747.9 314.2L748.4 316.2L748.8 318.1L749.2 320.1L749.6 322.0L750.0 324.0L750.4 326.0L750.8 327.9L751.2 329.9L751.6 331.8L752.0 333.8L752.4 335.7L752.8 337.7L753.2 339.6L753.6 341.6L754.0 343.6L754.4 345.5L754.8 347.5L755.2 349.4L755.6 351.4L756.0 353.3L756.4 355.3L756.8 357.3L757.2 359.2L757.6 361.2L758.0 363.1L758.4 365.1L758.8 367.0L759.2 369.0L759.6 371.0L760.0 372.9L760.4 374.9L760.8 376.8L761.2 378.8L761.6 380.8L762.0 382.7L762.4 384.7L762.8 386.6L763.2 388.6L763.6 390.6L764.0 392.5L764.4 394.5L764.8 396.4L765.2 398.4L765.6 400.3L766.0 402.3L766.5 404.3L766.9 406.2L767.3 408.2L767.7 410.1L768.1 412.1L768.5 414.1L768.9 416.0L769.3 418.0L769.7 419.9L770.1 421.9L770.6 423.9L771.0 425.8L771.4 427.8L771.8 429.7L772.2 431.7L772.7 433.7L773.1 435.6L773.5 437.6L773.9 439.5L774.4 441.5L774.8 443.5L775.2 445.4L775.7 447.4L776.1 449.3L776.5 451.3L777.0 453.3L777.4 455.2L777.9 457.2L778.3 459.1L778.7 461.1L779.2 463.1L779.6 465.0L780.1 467.0L780.6 468.9L781.0 470.9L781.5 472.9L781.9 474.8L782.4 476.8L782.9 478.7L783.3 480.7L783.8 482.7L784.3 484.6L784.8 486.6L785.2 488.5L785.7 490.5L786.2 492.5L786.7 494.4L787.2 496.4L787.7 498.3L788.2 500.3L788.7 502.2L789.2 504.2L789.7 506.1L790.2 508.1L790.8 510.0L791.3 512.0L791.8 513.9L792.4 515.9L792.9 517.8L793.4 519.7L794.0 521.7L794.5 523.6L795.1 525.5L795.7 527.5L796.3 529.4L796.8 531.3L797.4 533.3L798.0 535.2L798.6 537.1L799.2 539.0L799.8 540.9L800.4 542.8L801.1 544.7L801.7 546.6L802.3 548.5L803.0 550.4L803.6 552.3L804.3 554.2L805.0 556.1L805.6 558.0L806.3 559.9L807.0 561.8L807.7 563.6L808.4 565.5L809.1 567.4L809.9 569.2L810.6 571.1L811.3 572.9L812.1 574.8L812.9 576.6L813.6 578.5L814.4 580.3L815.2 582.1L816.0 584.0L816.8 585.8L817.6 587.6L818.4 589.4L819.3 591.2L820.1 593.0L821.0 594.8L821.8 596.6L822.7 598.4L823.6 600.2L824.5 601.9L825.4 603.7L826.3 605.5L827.3 607.2L828.2 609.0L829.2 610.7L830.2 612.4L831.1 614.2L832.1 615.9L833.1 617.6L834.1 619.3L835.2 621.0L836.2 622.7L837.3 624.4L838.3 626.1L839.4 627.8L840.5 629.5L841.6 631.1L842.7 632.8L843.9 634.4L845.0 636.1L846.2 637.7L847.3 639.4L848.5 641.0L849.7 642.6L850.9 644.2L852.2 645.8L853.4 647.4L854.6 648.9L855.9 650.5L857.2 652.1L858.5 653.6L859.8 655.1L861.1 656.6L862.5 658.1L863.8 659.6L865.2 661.1L866.5 662.6L867.9 664.0L869.3 665.5L870.8 666.9L872.2 668.3L873.6 669.7L875.1 671.1L876.6 672.4L878.1 673.8L879.6 675.1L881.1 676.4L882.6 677.7L884.2 678.9L885.7 680.2L887.3 681.4L888.9 682.6L890.5 683.8L892.1 685.0L893.8 686.1L895.4 687.2L897.1 688.3L898.7 689.4L900.4 690.5L902.1 691.5L903.8 692.5L905.6 693.5L907.3 694.5L909.1 695.4L910.8 696.3L912.6 697.2L914.4 698.1L916.2 698.9L918.1 699.7L919.9 700.5L921.8 701.3L923.6 702.1L925.5 702.8L927.4 703.5L929.3 704.2L931.2 704.9L933.1 705.5L935.0 706.2L936.9 706.8L938.8 707.4L940.8 708.0L942.7 708.5L944.6 709.1L946.6 709.6L948.5 710.1L950.5 710.6L952.5 711.1L954.4 711.6L956.4 712.1L958.4 712.5L960.3 713.0L962.3 713.4L964.3 713.8L966.3 714.2L968.2 714.6L970.2 715.0L972.2 715.3L974.2 715.7L976.2 716.0L978.1 716.4L980.1 716.7L982.1 717.0L984.1 717.3L986.0 717.6L988.0 717.9L990.0 718.2L992.0 718.5L994.0 718.7L996.0 719.0L997.9 719.2L999.9 719.5L1001.9 719.7L1003.9 719.9L1005.9 720.1L1007.9 720.4L1009.8 720.6L1011.8 720.7L1013.8 720.9L1015.8 721.1L1017.8 721.3L1019.8 721.4L1021.8 721.6L1023.7 721.7L1025.7 721.9L1027.7 722.0L1029.7 722.2L1031.7 722.3L1033.7 722.4L1035.7 722.5L1037.7 722.6L1039.7 722.7L1041.7 722.8L1043.7 722.9L1045.7 723.0L1047.7 723.1L1049.7 723.2L1051.6 723.3L1053.6 723.3L1055.6 723.4L1057.6 723.5L1059.6 723.5L1061.6 723.6L1063.6 723.7L1065.6 723.7L1067.6 723.8L1069.7 723.8L1071.7 723.9L1073.7 723.9L1075.7 723.9L1077.7 724.0L1079.7 724.0L1081.7 724.0L1083.7 724.1L1085.7 724.1L1087.7 724.1L1089.7 724.1L1091.7 724.2L1093.7 724.2L1095.7 724.2L1097.7 724.2L1099.8 724.2L1101.8 724.2L1103.8 724.2L1105.8 724.3L1107.8 724.3L1109.8 724.3L1111.8 724.3L1113.8 724.3L1115.8 724.3L1117.8 724.3L1119.9 724.3L1121.9 724.3L1123.9 724.3L1125.9 724.3L1127.9 724.3L1129.9 724.3L1131.9 724.3L1133.9 724.3L1135.9 724.3L1137.9 724.3L1139.9 724.3L1142.0 724.3L1144.0 724.3L1146.0 724.3L1148.0 724.3L1150.0 724.3L1152.0 724.3L1154.0 724.3L1156.0 724.3L1158.0 724.3L1160.0 724.3L1162.0 724.4L1164.0 724.4L1166.0 724.4L1168.0 724.4L1170.0 724.4L1172.0 724.4L1174.0 724.5L1176.0 724.5L1178.1 724.5L1180.1 724.5L1182.0 724.6L1184.0 724.6L1186.0 724.6L1188.0 724.7L1190.0 724.7L1192.0 724.7L1194.0 724.8L1196.0 724.8L1198.0 724.9L1200.0 724.9L1202.0 725.0"/>
<path stroke-width="7" d="M1011.8 720.7L1013.8 720.9L1015.8 721.1L1017.8 721.3L1019.8 721.4L1021.8 721.6L1023.7 721.7L1025.7 721.9L1027.7 722.0L1029.7 722.2L1031.7 722.3L1033.7 722.4L1035.7 722.5L1037.7 722.6L1039.7 722.7L1041.7 722.8L1043.7 722.9L1045.7 723.0L1047.7 723.1L1049.7 723.2L1051.6 723.3L1053.6 723.3L1055.6 723.4L1057.6 723.5L1059.6 723.5L1061.6 723.6L1063.6 723.7L1065.6 723.7L1067.6 723.8L1069.7 723.8L1071.7 723.9L1073.7 723.9L1075.7 723.9L1077.7 724.0L1079.7 724.0L1081.7 724.0L1083.7 724.1L1085.7 724.1L1087.7 724.1L1089.7 724.1L1091.7 724.2L1093.7 724.2L1095.7 724.2L1097.7 724.2L1099.8 724.2L1101.8 724.2L1103.8 724.2L1105.8 724.3L1107.8 724.3L1109.8 724.3L1111.8 724.3L1113.8 724.3L1115.8 724.3L1117.8 724.3L1119.9 724.3L1121.9 724.3L1123.9 724.3L1125.9 724.3L1127.9 724.3L1129.9 724.3L1131.9 724.3L1133.9 724.3L1135.9 724.3L1137.9 724.3L1139.9 724.3L1142.0 724.3L1144.0 724.3L1146.0 724.3L1148.0 724.3L1150.0 724.3L1152.0 724.3L1154.0 724.3L1156.0 724.3L1158.0 724.3L1160.0 724.3L1162.0 724.4L1164.0 724.4L1166.0 724.4L1168.0 724.4L1170.0 724.4L1172.0 724.4L1174.0 724.5L1176.0 724.5L1178.1 724.5L1180.1 724.5L1182.0 724.6L1184.0 724.6L1186.0 724.6L1188.0 724.7L1190.0 724.7L1192.0 724.7L1194.0 724.8L1196.0 724.8L1198.0 724.9L1200.0 724.9L1202.0 725.0"/>
<path stroke-width="7.5" d="M1121.9 724.3L1123.9 724.3L1125.9 724.3L1127.9 724.3L1129.9 724.3L1131.9 724.3L1133.9 724.3L1135.9 724.3L1137.9 724.3L1139.9 724.3L1142.0 724.3L1144.0 724.3L1146.0 724.3L1148.0 724.3L1150.0 724.3L1152.0 724.3L1154.0 724.3L1156.0 724.3L1158.0 724.3L1160.0 724.3L1162.0 724.4L1164.0 724.4L1166.0 724.4L1168.0 724.4L1170.0 724.4L1172.0 724.4L1174.0 724.5L1176.0 724.5L1178.1 724.5L1180.1 724.5L1182.0 724.6L1184.0 724.6L1186.0 724.6L1188.0 724.7L1190.0 724.7L1192.0 724.7L1194.0 724.8L1196.0 724.8L1198.0 724.9L1200.0 724.9L1202.0 725.0"/>
</g>
<g stroke="#000" stroke-linecap="round" fill="none">
<line x1="894" y1="72.3" x2="978" y2="72.3" stroke-width="6.4"/>
<line x1="895" y1="119" x2="977" y2="119" stroke-width="8.2"/>
<line x1="893.5" y1="166.5" x2="978.5" y2="166.5" stroke-width="5.6"/>
</g>
<g class="leg">
<text x="988" y="86" textLength="108" lengthAdjust="spacingAndGlyphs">A:DEP</text>
<text x="988" y="132.5" textLength="191" lengthAdjust="spacingAndGlyphs">B:DEP-BSA</text>
<text x="988" y="180" textLength="107" lengthAdjust="spacingAndGlyphs">C:BSA</text>
</g>
<g class="pk" text-anchor="middle">
<text x="301.5" y="143.7">C</text>
<text x="670" y="152.5">A</text>
<text x="864.5" y="486">B</text>
</g>
<g class="num"><text x="134.6" y="39.4" text-anchor="end" textLength="60.4" lengthAdjust="spacingAndGlyphs">2.0</text><text x="134.6" y="210.9" text-anchor="end" textLength="60.4" lengthAdjust="spacingAndGlyphs">1.5</text><text x="134.6" y="382.4" text-anchor="end" textLength="60.4" lengthAdjust="spacingAndGlyphs">1.0</text><text x="134.6" y="553.9" text-anchor="end" textLength="60.4" lengthAdjust="spacingAndGlyphs">0.5</text><text x="134.6" y="725.4" text-anchor="end" textLength="60.4" lengthAdjust="spacingAndGlyphs">0.0</text><text x="161.3" y="862.2" text-anchor="middle" textLength="73" lengthAdjust="spacingAndGlyphs">200</text><text x="420.9" y="862.2" text-anchor="middle" textLength="73" lengthAdjust="spacingAndGlyphs">250</text><text x="681.3" y="862.2" text-anchor="middle" textLength="73" lengthAdjust="spacingAndGlyphs">300</text><text x="940.6" y="862.2" text-anchor="middle" textLength="73" lengthAdjust="spacingAndGlyphs">350</text><text x="1200.9" y="862.2" text-anchor="middle" textLength="73" lengthAdjust="spacingAndGlyphs">400</text>
<text x="719.3" y="922.6" textLength="100.5" lengthAdjust="spacingAndGlyphs" style="font-size:47px">(nm)</text>
</g>
<g class="cjk">
<text x="6" y="340.3">吸</text>
<text x="6" y="404">光</text>
<text x="6" y="466.5">度</text>
<text x="582.3" y="930.3" textLength="123.5" lengthAdjust="spacingAndGlyphs">波长</text>
</g>
</svg>
</body>
</html>
